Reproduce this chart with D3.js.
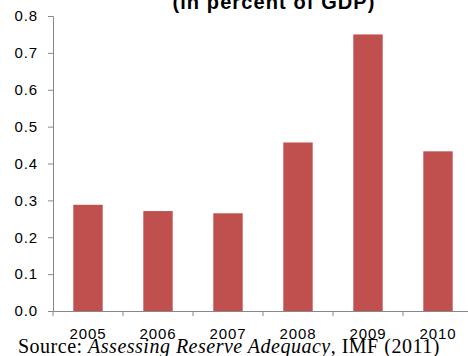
<!DOCTYPE html>
<html><head><meta charset="utf-8">
<script src="https://cdn.jsdelivr.net/npm/d3@7"></script>
<style>body{margin:0;background:#fff;} svg{display:block;}</style>
</head><body>
<script>
const years = ["2005","2006","2007","2008","2009","2010"];
const values = [0.288, 0.271, 0.265, 0.457, 0.750, 0.433];
const yTicks = [0.0,0.1,0.2,0.3,0.4,0.5,0.6,0.7,0.8];
const titleText = "(in percent of GDP)";

(function(){
const W=468,H=356;
const svg=d3.select("body").append("svg").attr("width",W).attr("height",H);
const mLeft=53, mRight=473, mTop=16, mBottom=311;
const x=d3.scaleBand().domain(years).range([mLeft,mRight]).paddingInner(0.58).paddingOuter(0.29);
const y=d3.scaleLinear().domain([0,0.8]).range([mBottom,mTop]);
const sans="Liberation Sans, Arial, sans-serif";

svg.append("text").attr("x",274).attr("y",9).attr("text-anchor","middle")
  .attr("font-family",sans).attr("font-weight","bold")
  .attr("font-size",20).attr("letter-spacing",1.1).attr("fill","#000").text(titleText);

svg.selectAll("rect.bar").data(values).join("rect").attr("class","bar")
  .attr("x",(d,i)=>x(years[i])).attr("width",x.bandwidth())
  .attr("y",d=>y(d)).attr("height",d=>mBottom-y(d)).attr("fill","#c0504d");

const yAxis=svg.append("g").attr("transform",`translate(${mLeft},0)`)
  .call(d3.axisLeft(y).tickValues(yTicks).tickFormat(d3.format(".1f")).tickSize(5).tickPadding(10));
yAxis.select(".domain").attr("stroke","#888");
yAxis.selectAll(".tick line").attr("stroke","#888");
yAxis.selectAll("text").attr("font-family",sans).attr("font-size",15).attr("letter-spacing",0.9).attr("fill","#000");

const xb=d3.scaleBand().domain(years).range([mLeft,mRight]);
const xAxis=svg.append("g").attr("transform",`translate(0,${mBottom})`)
  .call(d3.axisBottom(xb).tickSize(0).tickSizeOuter(0));
xAxis.select(".domain").attr("stroke","#888");
xAxis.selectAll("text").attr("y",28).attr("dy","0").attr("font-family",sans).attr("font-size",15).attr("letter-spacing",0.9).attr("fill","#000");
svg.append("g").selectAll("line").data(years.concat(["end"])).join("line")
  .attr("x1",(d,i)=>mLeft+i*xb.step()).attr("x2",(d,i)=>mLeft+i*xb.step())
  .attr("y1",mBottom).attr("y2",mBottom+5).attr("stroke","#888");

const src=svg.append("text").attr("x",18).attr("y",353)
  .attr("font-family","Liberation Serif, Times New Roman, serif").attr("font-size",20).attr("letter-spacing",0.5).attr("fill","#000");
src.append("tspan").text("Source: ");
src.append("tspan").attr("font-style","italic").text("Assessing Reserve Adequacy");
src.append("tspan").text(", IMF (2011)");
})();
</script>
</body></html>
